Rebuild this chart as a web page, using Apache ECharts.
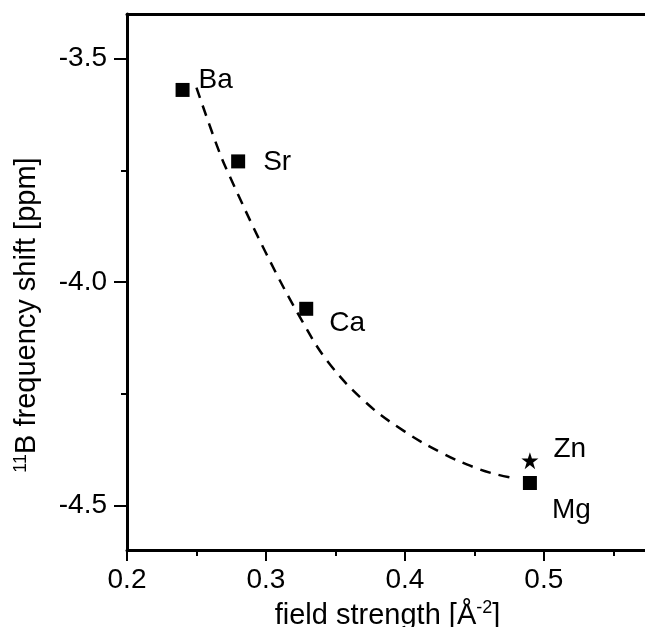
<!DOCTYPE html>
<html>
<head>
<meta charset="utf-8">
<script src="https://cdn.jsdelivr.net/npm/echarts@6/dist/echarts.min.js"></script>
<style>html,body{margin:0;padding:0;background:#fff}#c{width:645px;height:627px}</style>
</head>
<body>
<div id="c"></div>
<script>
// Data
var elements = ['Ba', 'Sr', 'Ca', 'Mg'];
var fieldStrength = [0.240, 0.280, 0.329, 0.490];
var freqShift = [-3.57, -3.73, -4.06, -4.45];
var znName = 'Zn';
var znField = 0.490;
var znShift = -4.40;
var fitX = [0.250, 0.265, 0.272, 0.300, 0.326, 0.345, 0.372, 0.400, 0.428, 0.450, 0.465, 0.480];
var fitY = [-3.565, -3.697, -3.750, -3.935, -4.087, -4.180, -4.270, -4.335, -4.385, -4.415, -4.430, -4.440];
var yMajorTicks = [-4.5, -4.0, -3.5];
var yMinorTicks = [-4.25, -3.75];

var font = 'Liberation Sans, Arial, sans-serif';
var labelOffset = {
  Ba: [4, -10],
  Sr: [13, 1],
  Ca: [11, 14],
  Mg: [10, 27]
};

var squares = elements.map(function (n, i) {
  return {
    value: [fieldStrength[i], freqShift[i]],
    label: {show: true, formatter: n, position: 'right', offset: labelOffset[n]}
  };
});
var fit = fitX.map(function (x, i) { return [x, fitY[i]]; });
var star = 'path://M50,0 L61.8,35.4 L100,35.4 L69.1,57.3 L80.9,95.1 L50,72.4 L19.1,95.1 L30.9,57.3 L0,35.4 L38.2,35.4 Z';

var chart = echarts.init(document.getElementById('c'));
chart.setOption({
  animation: false,
  grid: {left: 127, top: 14, right: -3, bottom: 77, show: false, containLabel: false, outerBoundsMode: 'none'},
  xAxis: [{
    type: 'value', min: 0.2, max: 0.575, interval: 0.1,
    name: '{a|field strength [Å}{s|-2}{a|]}',
    nameLocation: 'middle', nameGap: 45,
    nameTextStyle: {rich: {
      a: {fontFamily: font, fontSize: 29, color: '#000', verticalAlign: 'bottom', lineHeight: 32},
      s: {fontFamily: font, fontSize: 18, color: '#000', verticalAlign: 'top', padding: [0, 0, 12, 0], lineHeight: 32}
    }},
    axisLine: {show: true, lineStyle: {color: '#000', width: 3}},
    axisTick: {show: true, length: 11, lineStyle: {color: '#000', width: 2}},
    minorTick: {show: true, splitNumber: 2, length: 6, lineStyle: {color: '#000', width: 2}},
    axisLabel: {fontFamily: font, fontSize: 28, color: '#000', margin: 16, showMaxLabel: false,
      formatter: function (v) { return v.toFixed(1); }},
    splitLine: {show: false}
  }, {
    type: 'value', min: 0.2, max: 0.575, position: 'top',
    axisLine: {show: true, onZero: false, lineStyle: {color: '#000', width: 3}},
    axisTick: {show: false}, axisLabel: {show: false}, splitLine: {show: false}
  }],
  yAxis: [{
    type: 'value', min: -4.6, max: -3.4,
    name: '{s|11}{a|B frequency shift [ppm]}',
    nameLocation: 'middle', nameGap: 84, nameRotate: 90,
    nameTextStyle: {padding: [0, 66, 0, 0], rich: {
      a: {fontFamily: font, fontSize: 29, color: '#000', lineHeight: 32},
      s: {fontFamily: font, fontSize: 18, color: '#000', padding: [0, 0, 12, 0], lineHeight: 32}
    }},
    axisLine: {show: true, lineStyle: {color: '#000', width: 3}},
    axisTick: {show: true, length: 13, customValues: yMajorTicks, lineStyle: {color: '#000', width: 2}},
    axisLabel: {fontFamily: font, fontSize: 28, color: '#000', margin: 20, customValues: yMajorTicks,
      formatter: function (v) { return v.toFixed(1); }},
    splitLine: {show: false}
  }, {
    type: 'value', min: -4.6, max: -3.4, position: 'left',
    axisLine: {show: false},
    axisTick: {show: true, length: 6, customValues: yMinorTicks, lineStyle: {color: '#000', width: 2}},
    axisLabel: {show: false},
    splitLine: {show: false}
  }],
  series: [{
    type: 'line', data: fit, smooth: 0.4, showSymbol: false, symbol: 'none',
    lineStyle: {color: '#000', width: 2.5, type: [11, 8]}, z: 1
  }, {
    type: 'scatter', data: squares, symbol: 'rect', symbolSize: 14,
    itemStyle: {color: '#000', opacity: 1},
    label: {fontFamily: font, fontSize: 28, color: '#000'}, z: 3
  }, {
    type: 'scatter', data: [{value: [znField, znShift], label: {show: true, formatter: znName, position: 'right', offset: [10, -11]}}],
    symbol: star, symbolSize: 17,
    itemStyle: {color: '#000', opacity: 1},
    label: {fontFamily: font, fontSize: 28, color: '#000'}, z: 3
  }]
});
</script>
</body>
</html>
